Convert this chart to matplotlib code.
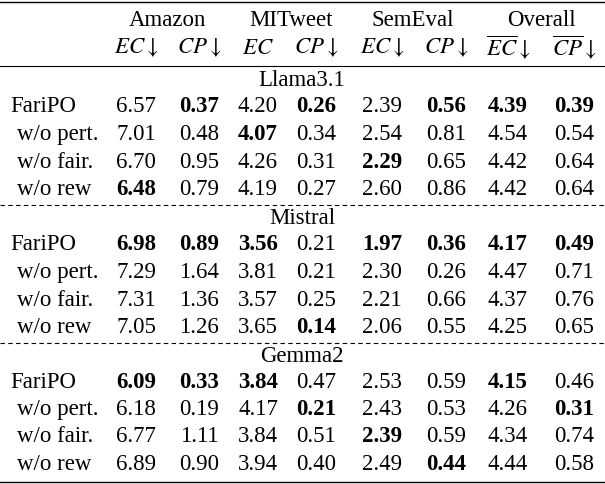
import matplotlib
matplotlib.use("Agg")
import matplotlib.pyplot as plt

plt.rcParams['font.family'] = ['Liberation Serif', 'DejaVu Serif']
plt.rcParams['mathtext.fontset'] = 'stix'

datasets = ['Amazon', 'MITweet', 'SemEval', 'Overall']
metrics = [r'$EC\downarrow$', r'$CP\downarrow$', r'$EC$', r'$CP\downarrow$',
           r'$EC\downarrow$', r'$CP\downarrow$', r'$\overline{EC}\downarrow$', r'$\overline{CP}\downarrow$']
models = ['Llama3.1', 'Mistral', 'Gemma2']
variants = ['FariPO', 'w/o pert.', 'w/o fair.', 'w/o rew']

llama = [[6.57, 0.37, 4.20, 0.26, 2.39, 0.56, 4.39, 0.39],
         [7.01, 0.48, 4.07, 0.34, 2.54, 0.81, 4.54, 0.54],
         [6.70, 0.95, 4.26, 0.31, 2.29, 0.65, 4.42, 0.64],
         [6.48, 0.79, 4.19, 0.27, 2.60, 0.86, 4.42, 0.64]]
llama_bold = [[0, 1, 0, 1, 0, 1, 1, 1],
              [0, 0, 1, 0, 0, 0, 0, 0],
              [0, 0, 0, 0, 1, 0, 0, 0],
              [1, 0, 0, 0, 0, 0, 0, 0]]
mistral = [[6.98, 0.89, 3.56, 0.21, 1.97, 0.36, 4.17, 0.49],
           [7.29, 1.64, 3.81, 0.21, 2.30, 0.26, 4.47, 0.71],
           [7.31, 1.36, 3.57, 0.25, 2.21, 0.66, 4.37, 0.76],
           [7.05, 1.26, 3.65, 0.14, 2.06, 0.55, 4.25, 0.65]]
mistral_bold = [[1, 1, 1, 0, 1, 1, 1, 1],
                [0, 0, 0, 0, 0, 0, 0, 0],
                [0, 0, 0, 0, 0, 0, 0, 0],
                [0, 0, 0, 1, 0, 0, 0, 0]]
gemma = [[6.09, 0.33, 3.84, 0.47, 2.53, 0.59, 4.15, 0.46],
         [6.18, 0.19, 4.17, 0.21, 2.43, 0.53, 4.26, 0.31],
         [6.77, 1.11, 3.84, 0.51, 2.39, 0.59, 4.34, 0.74],
         [6.89, 0.90, 3.94, 0.40, 2.49, 0.44, 4.44, 0.58]]
gemma_bold = [[1, 1, 1, 0, 0, 0, 1, 0],
              [0, 0, 0, 1, 0, 0, 0, 1],
              [0, 0, 0, 0, 1, 0, 0, 0],
              [0, 0, 0, 0, 0, 1, 0, 0]]
blocks = [(llama, llama_bold), (mistral, mistral_bold), (gemma, gemma_bold)]

fig = plt.figure(figsize=(6.05, 4.84), dpi=100)
ax = fig.add_axes([0, 0, 1, 1])
ax.set_xlim(0, 605)
ax.set_ylim(484, 0)
ax.axis('off')

fs = 16.5
col_x = [136, 199, 258, 316, 382, 446, 508, 574]
head_x = [167, 291, 413, 541]

ax.axhline(2, color='black', lw=1)
for name, x in zip(datasets, head_x):
    ax.text(x, 20, name, ha='center', va='center', fontsize=fs)
for m, x in zip(metrics, col_x):
    ax.text(x, 48, m, ha='center', va='center', fontsize=fs)
ax.axhline(66, color='black', lw=0.8)

label_y = [81, 219, 356]
for b, (vals, bold) in enumerate(blocks):
    y0 = label_y[b]
    ax.text(302, y0, models[b], ha='center', va='center', fontsize=fs)
    for r, row in enumerate(vals):
        y = y0 + 26 + r * 27.5
        lx = 10 if r == 0 else 17
        ax.text(lx, y, variants[r], ha='left', va='center', fontsize=fs)
        for c, v in enumerate(row):
            ax.text(col_x[c], y, f'{v:.2f}', ha='center', va='center', fontsize=fs,
                    fontweight='bold' if bold[r][c] else 'normal')
    if b < 2:
        ax.axhline(y0 + 124, color='black', lw=0.8, ls=(0, (4, 3)))
ax.axhline(482, color='black', lw=1)

fig.savefig('out.png', dpi=100)
